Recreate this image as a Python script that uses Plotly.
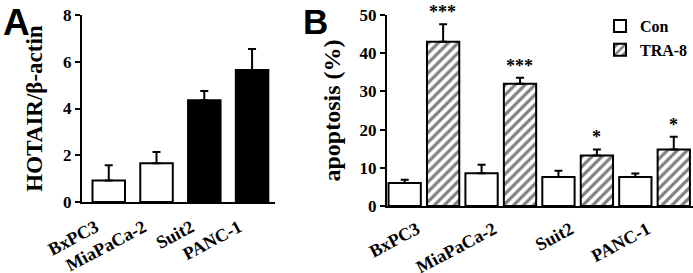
import plotly.graph_objects as go

# ---- data ----
cells = ["BxPC3", "MiaPaCa-2", "Suit2", "PANC-1"]

hotair = [0.92, 1.66, 4.35, 5.65]
hotair_err = [0.65, 0.48, 0.40, 0.90]
hotair_colors = ["white", "white", "black", "black"]

con = [6.0, 8.6, 7.6, 7.6]
con_err = [0.9, 2.2, 1.6, 0.9]
tra = [43.0, 32.0, 13.2, 14.8]
tra_err = [4.6, 1.6, 1.6, 3.3]
stars = ["***", "***", "*", "*"]

SERIF = "Liberation Serif"
SANS = "Liberation Sans"
W, H = 693, 273

fig = go.Figure()

# Panel A
fig.add_trace(go.Bar(
    x=cells, y=hotair, width=0.68,
    marker=dict(color=hotair_colors, line=dict(color="black", width=2)),
    error_y=dict(type="data", array=hotair_err, arrayminus=[0] * 4, symmetric=False,
                 color="black", thickness=2, width=4),
    showlegend=False, xaxis="x", yaxis="y",
))

# Panel B
fig.add_trace(go.Bar(
    name="Con", x=cells, y=con,
    marker=dict(color="white", line=dict(color="black", width=2)),
    error_y=dict(type="data", array=con_err, arrayminus=[0] * 4, symmetric=False,
                 color="black", thickness=2, width=4),
    xaxis="x2", yaxis="y2",
))
fig.add_trace(go.Bar(
    name="TRA-8", x=cells, y=tra,
    marker=dict(color="white", line=dict(color="black", width=2),
                pattern=dict(shape="/", fgcolor="black", bgcolor="white", size=7, solidity=0.45)),
    error_y=dict(type="data", array=tra_err, arrayminus=[0] * 4, symmetric=False,
                 color="black", thickness=2, width=4),
    xaxis="x2", yaxis="y2",
))

tickfont = dict(family=SERIF, size=17, color="black", weight="bold")
catfont = dict(family=SERIF, size=18, color="black", weight="bold")

axis_common = dict(showline=True, linecolor="black", linewidth=2, showgrid=False,
                   zeroline=False, automargin=False)

annotations = [
    dict(text="A", x=16 / W, y=1.0, xanchor="center", yanchor="top", xref="paper", yref="paper",
         showarrow=False, font=dict(family=SANS, size=37, color="black", weight="bold")),
    dict(text="B", x=315 / W, y=1.0, xanchor="center", yanchor="top", xref="paper", yref="paper",
         showarrow=False, font=dict(family=SANS, size=35, color="black", weight="bold")),
]
for c, v, e, s in zip(cells, tra, tra_err, stars):
    annotations.append(dict(text=s, x=c, y=v + e, xref="x2", yref="y2", xshift=19,
                            yanchor="bottom", showarrow=False,
                            font=dict(family=SERIF, size=18, color="black", weight="bold")))

fig.update_layout(
    width=W, height=H,
    margin=dict(l=0, r=0, t=0, b=0, autoexpand=False),
    paper_bgcolor="white", plot_bgcolor="white",
    barmode="group", bargap=0.0, bargroupgap=0.16,
    xaxis=dict(domain=[82 / W, 275 / W], range=[-0.56, 3.48], ticks="", tickangle=-28,
               tickfont=catfont, anchor="y", ticklabelshift=-13, ticklabelstandoff=6,
               **axis_common),
    yaxis=dict(domain=[(H - 202) / H, (H - 15) / H], range=[0, 8], dtick=2,
               ticks="outside", ticklen=5, tickwidth=2, tickcolor="black",
               tickfont=tickfont, anchor="x",
               title=dict(text="HOTAIR/β-actin",
                          font=dict(family=SERIF, size=23, color="black", weight="bold"),
                          standoff=14),
               **axis_common),
    xaxis2=dict(domain=[387 / W, 1.0], range=[-0.48, 3.5], ticks="", tickangle=-28,
                tickfont=catfont, anchor="y2", ticklabelshift=-7, ticklabelstandoff=4,
                **axis_common),
    yaxis2=dict(domain=[(H - 206) / H, (H - 15) / H], range=[0, 50], dtick=10,
                ticks="outside", ticklen=5, tickwidth=2, tickcolor="black",
                tickfont=tickfont, anchor="x2",
                title=dict(text="apoptosis (%)",
                           font=dict(family=SERIF, size=24, color="black", weight="bold"),
                           standoff=12),
                **axis_common),
    legend=dict(x=600 / W, y=1 - 9 / H, xanchor="left", yanchor="top",
                font=dict(family=SERIF, size=16, color="black", weight="bold"),
                bgcolor="rgba(0,0,0,0)", itemwidth=30, tracegroupgap=0),
    annotations=annotations,
)

fig.write_html("out.html", config={"displayModeBar": False},
               post_script="document.body.style.margin='0px';")
